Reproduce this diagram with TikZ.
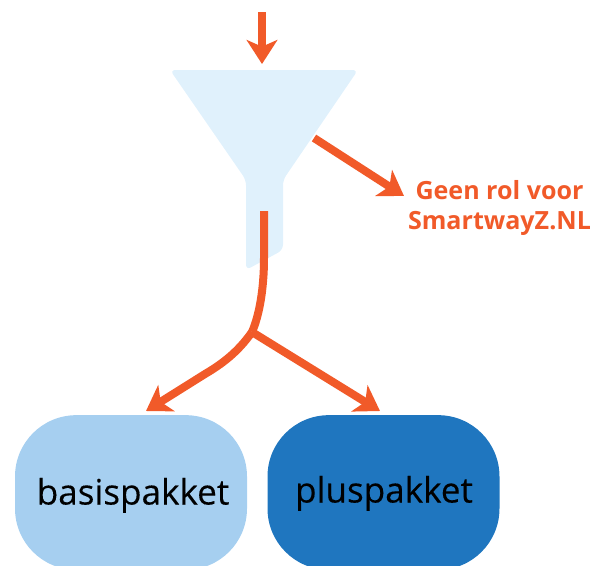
\documentclass[tikz,border=0pt]{standalone}
\usepackage{fontspec}
\setmainfont{Open Sans}
\newfontfamily\packfont[FakeBold=0.25]{Open Sans}
\usetikzlibrary{arrows.meta}
\definecolor{arrowc}{HTML}{F15A29}
\definecolor{funnelc}{HTML}{E0F1FC}
\definecolor{basisc}{HTML}{A6CFF0}
\definecolor{plusc}{HTML}{1F76BF}
\tikzset{
  px/.style={x=0.75pt,y=-0.75pt},
  flow/.style={draw=arrowc,line width=6pt,-{Stealth[length=18pt,width=23pt,inset=5pt]}},
  line/.style={draw=arrowc,line width=6pt},
  pack/.style={rounded corners=46pt,minimum width=174pt,minimum height=116pt,inner sep=0pt},
  packtext/.style={text=black,anchor=base,inner sep=0pt,font=\packfont\fontsize{26.3}{30}\selectfont},
  note/.style={text=arrowc,font=\bfseries\fontsize{18.8}{22.5}\selectfont,align=center,inner sep=0pt}
}
\begin{document}
\begin{tikzpicture}[px]
\useasboundingbox (0,0) rectangle (590,565);
\clip (0,0) rectangle (590,565);
\fill[funnelc,rounded corners=4pt] (170,70) -- (358,70) -- (283,180) -- (283,250) -- (246,270) -- (246,180) -- cycle;
\node[pack,fill=basisc] (basis) at (131,492.5) {};
\node[pack,fill=plusc] (plus) at (383.5,492.5) {};
\node[packtext] (basislabel) at (133,504.5) {basispakket};
\node[packtext] (pluslabel) at (384,502.5) {pluspakket};
\node[note] (no) at (499.5,208) {Geen rol voor\\SmartwayZ.NL};
\coordinate (t0) at (262,12);
\coordinate (t1) at (262,64);
\coordinate (r0) at (314,138);
\coordinate (r1) at (404,196);
\coordinate (s0) at (264,211);
\coordinate (j) at (252,332);
\coordinate (b1) at (146,411);
\coordinate (p1) at (380,411);
\draw[flow] (t0) -- (t1);
\draw[flow] (r0) -- (r1);
\draw[line] (s0) -- (264,258) .. controls (264,290) and (259,316) .. (j);
\draw[flow] (j) .. controls (238,352) and (222,364) .. (205,374) -- (b1);
\draw[flow] (j) -- (p1);
\end{tikzpicture}
\end{document}
